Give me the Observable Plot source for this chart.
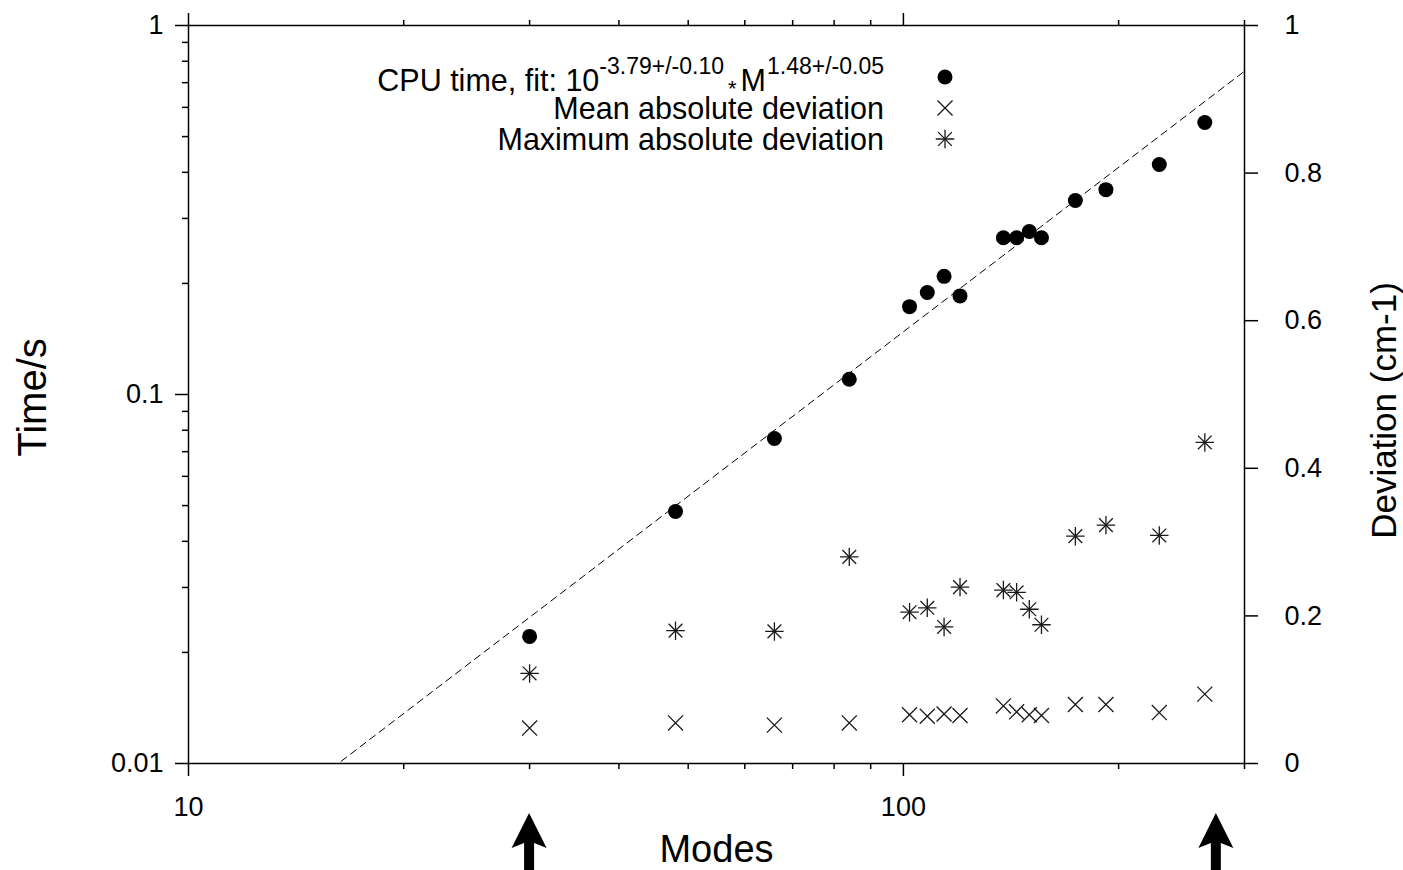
<!DOCTYPE html>
<html><head><meta charset="utf-8">
<script src="https://cdn.jsdelivr.net/npm/d3@7"></script>
<script src="https://cdn.jsdelivr.net/npm/@observablehq/plot@0.6"></script>
<style>body{margin:0;background:#fff} svg{display:block}</style>
</head><body><div id="chart"></div>
<script>
// ---- data ----
const modes   = [30, 48, 66, 84, 102, 108, 114, 120, 138, 144, 150, 156, 174, 192, 228, 264];
const cpuTime = [0.0221, 0.0482, 0.0760, 0.110, 0.173, 0.189, 0.209, 0.185, 0.266, 0.266, 0.2765, 0.266, 0.3355, 0.359, 0.420, 0.546];
const meanDev = [0.048, 0.055, 0.052, 0.055, 0.066, 0.064, 0.067, 0.065, 0.078, 0.070, 0.066, 0.065, 0.080, 0.080, 0.069, 0.094];
const maxDev  = [0.122, 0.180, 0.179, 0.280, 0.205, 0.211, 0.185, 0.239, 0.235, 0.232, 0.209, 0.188, 0.308, 0.323, 0.309, 0.435];
// fit from legend: 10^-3.79 * M^1.48
const fitLogA = -3.79, fitB = 1.48;
const fitRange = [10, 300];
const arrowModes = [30, 274];

const xMajor = [10, 100];
const xMinor = [20, 30, 40, 50, 60, 70, 80, 90, 200, 300];
const yMajor = [0.01, 0.1, 1];
const yMinor = [0.02, 0.03, 0.04, 0.05, 0.06, 0.07, 0.08, 0.09, 0.2, 0.3, 0.4, 0.5, 0.6, 0.7, 0.8, 0.9];
const devTicks = [0, 0.2, 0.4, 0.6, 0.8, 1];
const devTickLabels = ["0", "0.2", "0.4", "0.6", "0.8", "1"];

const legendLabels = ["Mean absolute deviation", "Maximum absolute deviation"];
const xLabel = "Modes", yLabel = "Time/s", y2Label = "Deviation (cm-1)";

// deviation (linear 0..1) mapped onto the log time axis 0.01..1
const toY = d => 10 ** (-2 + 2 * d);

const rows = modes.map((m, i) => ({m, t: cpuTime[i], mean: toY(meanDev[i]), max: toY(maxDev[i])}));
const fitLine = fitRange.map(m => ({m, t: 10 ** (fitLogA + fitB * Math.log10(m))}));
const devRows = devTicks.map((d, i) => ({y: toY(d), label: devTickLabels[i]}));

const FONT = "'Liberation Sans', Arial, Helvetica, sans-serif";
const sw = 1.5;
const ink = "#1a1a1a";
const rTimes = 6.9, rStarX = 6.3, rStarP = 6.0;

const chart = Plot.plot({
  width: 1403, height: 870,
  marginLeft: 188, marginRight: 159, marginTop: 25, marginBottom: 107,
  style: {fontFamily: FONT, fontSize: "27px", color: "#000", background: "#fff", overflow: "visible"},
  x: {type: "log", domain: [10, 300]},
  y: {type: "log", domain: [0.01, 1]},
  marks: [
    // axes
    Plot.axisX({anchor: "bottom", ticks: xMajor, tickSize: 13, tickPadding: 20, tickFormat: d => String(d), label: null, strokeWidth: sw, fontSize: 27}),
    Plot.axisX({anchor: "bottom", ticks: xMinor, tickSize: 6, tickFormat: () => "", label: null, strokeWidth: sw}),
    Plot.axisX({anchor: "top", ticks: xMajor, tickSize: 13, tickFormat: () => "", label: null, strokeWidth: sw}),
    Plot.axisX({anchor: "top", ticks: xMinor, tickSize: 6, tickFormat: () => "", label: null, strokeWidth: sw}),
    Plot.axisY({anchor: "left", ticks: yMajor, tickSize: 13, tickPadding: 12, tickFormat: d => String(d), label: null, strokeWidth: sw, fontSize: 27}),
    Plot.axisY({anchor: "left", ticks: yMinor, tickSize: 6, tickFormat: () => "", label: null, strokeWidth: sw}),
    Plot.axisY({anchor: "right", ticks: devTicks.map(toY), tickSize: 13, tickFormat: () => "", label: null, strokeWidth: sw}),
    Plot.text(devRows, {y: "y", text: "label", frameAnchor: "right", textAnchor: "start", dx: 40, lineAnchor: "middle", fontSize: 27}),
    Plot.frame({stroke: "#000", strokeWidth: sw}),
    // axis labels
    Plot.text([xLabel], {text: d => d, frameAnchor: "bottom", textAnchor: "middle", dy: 86, lineAnchor: "middle", fontSize: 38}),
    Plot.text([yLabel], {text: d => d, frameAnchor: "left", textAnchor: "middle", dx: -155, dy: 3, rotate: -90, lineAnchor: "middle", fontSize: 40}),
    Plot.text([y2Label], {text: d => d, frameAnchor: "right", textAnchor: "middle", dx: 140, dy: 16, rotate: -90, lineAnchor: "middle", fontSize: 35}),
    // fit line
    Plot.line(fitLine, {x: "m", y: "t", stroke: "#000", strokeWidth: 1, strokeDasharray: "7,5", clip: true}),
    // data
    Plot.dot(rows, {x: "m", y: "t", r: 7.5, fill: "#000", stroke: "none"}),
    Plot.dot(rows, {x: "m", y: "mean", symbol: "times", r: rTimes, stroke: ink, strokeWidth: 1.3}),
    Plot.dot(rows, {x: "m", y: "max", symbol: "times", r: rStarX, stroke: ink, strokeWidth: 1.3}),
    Plot.dot(rows, {x: "m", y: "max", symbol: "plus", r: rStarP, stroke: ink, strokeWidth: 1.3})
  ]
});

document.getElementById("chart").appendChild(chart);

// ---- legend and arrows (annotation) ----
const svg = d3.select(chart);
const sx = chart.scale("x");
const g = svg.append("g").attr("font-family", FONT).attr("fill", "#000");

const t1 = g.append("text").attr("x", 884).attr("y", 91).attr("text-anchor", "end").attr("font-size", 30.5);
t1.append("tspan").text("CPU time, fit: 10");
t1.append("tspan").attr("dy", -17).attr("font-size", 23).text("-3.79+/-0.10");
t1.append("tspan").attr("dx", 4).attr("dy", 22).attr("font-size", 22).text("*");
t1.append("tspan").attr("dx", 4).attr("dy", -5).attr("font-size", 30.5).text("M");
t1.append("tspan").attr("dx", 1).attr("dy", -17).attr("font-size", 23).text("1.48+/-0.05");

g.append("text").attr("x", 884).attr("y", 119).attr("text-anchor", "end").attr("font-size", 30.5).text(legendLabels[0]);
g.append("text").attr("x", 884).attr("y", 150).attr("text-anchor", "end").attr("font-size", 30.5).text(legendLabels[1]);

const sz = r => Math.PI * r * r;
g.append("circle").attr("cx", 945).attr("cy", 77).attr("r", 7.5).attr("fill", "#000");
g.append("path").attr("transform", "translate(945,108)").attr("d", d3.symbol(d3.symbolTimes, sz(rTimes))())
  .attr("fill", "none").attr("stroke", ink).attr("stroke-width", 1.3);
g.append("path").attr("transform", "translate(945,139)").attr("d", d3.symbol(d3.symbolTimes, sz(rStarX))())
  .attr("fill", "none").attr("stroke", ink).attr("stroke-width", 1.3);
g.append("path").attr("transform", "translate(945,139)").attr("d", d3.symbol(d3.symbolPlus, sz(rStarP))())
  .attr("fill", "none").attr("stroke", ink).attr("stroke-width", 1.3);

for (const m of arrowModes) {
  const x = sx.apply(m);
  const pts = [[x, 813], [x + 17.5, 848], [x + 5, 843], [x + 5, 870], [x - 5, 870], [x - 5, 843], [x - 17.5, 848]];
  g.append("path").attr("d", "M" + pts.map(p => p.join(",")).join("L") + "Z").attr("fill", "#000");
}
</script>
</body></html>
